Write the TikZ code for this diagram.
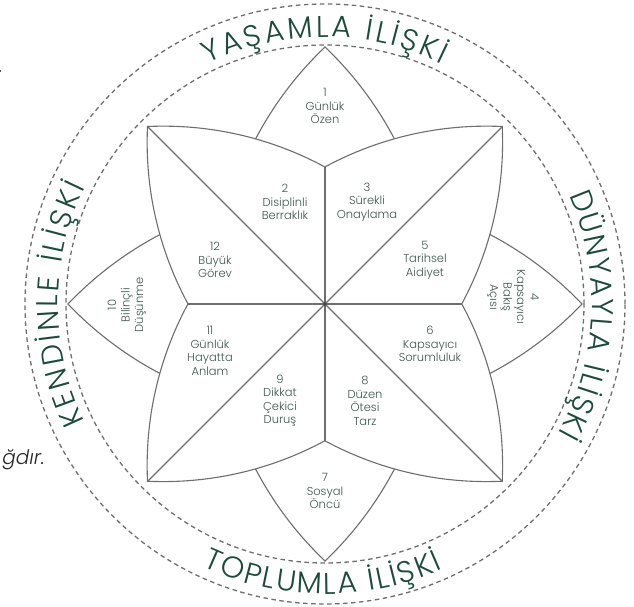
\documentclass[tikz,border=0pt]{standalone}
\usepackage{fontspec}
\setmainfont{Poppins}
\newfontfamily\thinfont{Poppins Light}
\usetikzlibrary{
    decorations.text, % Required for the ring titles along the arcs
    calc
}
\definecolor{linegray}{HTML}{6E6E6E}
\definecolor{labelink}{HTML}{3F5650}
\definecolor{titleink}{HTML}{1E4A3C}

\tikzset{
    petal/.style={draw=linegray, line width=1.1pt, fill=white},
    spoke/.style={draw=linegray, line width=1.1pt},
    ring/.style={draw=linegray, line width=1.3pt, dash pattern=on 4.5pt off 3.5pt},
    cell/.style={align=center, text=labelink, inner sep=0pt, font=\thinfont\fontsize{11.5}{13.5}\selectfont},
    ringtitle/.style={decorate, decoration={text along path, text align={fit to path},
        text color=titleink, text={|\thinfont\fontsize{30}{30}\selectfont|#1}}}
}

\begin{document}
\begin{tikzpicture}[x=1pt, y=1pt]
    \useasboundingbox (-325,-302) rectangle (309,304);

    % Outer rings
    \draw[ring] (0,0) circle (300);
    \draw[ring] (0,0) circle (259);

    % Small petals on the axes (one lens each way)
    \foreach \rot in {0,90}
        \draw[petal, rotate=\rot] (0,257) arc[start angle=46.4, end angle=-46.4, radius=354.9]
            arc[start angle=226.4, end angle=133.6, radius=354.9] -- cycle;

    % Big star on the diagonals
    \coordinate (o) at (0,0);
    \coordinate (tipNW) at (135:251);
    \draw[petal] (tipNW) \foreach \a in {0,90,180,270} {
            arc[start angle=92.7-\a, delta angle=-31.1, radius=339.3]
            arc[start angle=118.4-\a, delta angle=-31.1, radius=339.3]} -- cycle;

    % Spokes
    \foreach \a in {0,90,180,270} {
        \draw[spoke] (o) -- (\a:137);
        \draw[spoke] (o) -- (\a+45:251);
    }
    \fill[black!75] (o) circle (1.8);

    % Cells
    \node[cell] (c1) at (0,198) {1\\Günlük\\Özen};
    \node[cell] (c2) at (-40,102) {2\\Disiplinli\\Berraklık};
    \node[cell] (c3) at (42,102) {3\\Sürekli\\Onaylama};
    \node[cell, rotate=-90] (c4) at (188,7) {4\\Kapsayıcı\\Bakış\\Açısı};
    \node[cell] (c5) at (100,44) {5\\Tarihsel\\Aidiyet};
    \node[cell] (c6) at (105,-40) {6\\Kapsayıcı\\Sorumluluk};
    \node[cell] (c7) at (0,-187) {7\\Sosyal\\Öncü};
    \node[cell] (c8) at (40,-97) {8\\Düzen\\Ötesi\\Tarz};
    \node[cell] (c9) at (-45,-97) {9\\Dikkat\\Çekici\\Duruş};
    \node[cell, rotate=90] (c10) at (-198,-1) {10\\Bilinçli\\Düşünme};
    \node[cell] (c11) at (-115,-47) {11\\Günlük\\Hayatta\\Anlam};
    \node[cell] (c12) at (-110,44) {12\\Büyük\\Görev};

    % Ring titles
    \path[ringtitle={YAŞAMLA İLİŞKİ}] (116:267) arc[start angle=116, end angle=64, radius=267];
    \path[ringtitle={DÜNYAYLA İLİŞKİ}] (24:267) arc[start angle=24, end angle=-29, radius=267];
    \path[ringtitle={TOPLUMLA İLİŞKİ}] (-115:290) arc[start angle=-115, end angle=-66, radius=290];
    \path[ringtitle={KENDİNLE İLİŞKİ}] (206:267) arc[start angle=206, end angle=154, radius=267];

    % Text cut off at the page edge
    \node[anchor=base east, inner sep=0pt, text=black!85, font=\thinfont\itshape\fontsize{20}{20}\selectfont] (frag) at (-280,-160) {ğdır.};
    \node[anchor=base west, inner sep=0pt, text=black!85, font=\thinfont\itshape\fontsize{20}{20}\selectfont] (dot) at (-326,232) {.};
\end{tikzpicture}
\end{document}
